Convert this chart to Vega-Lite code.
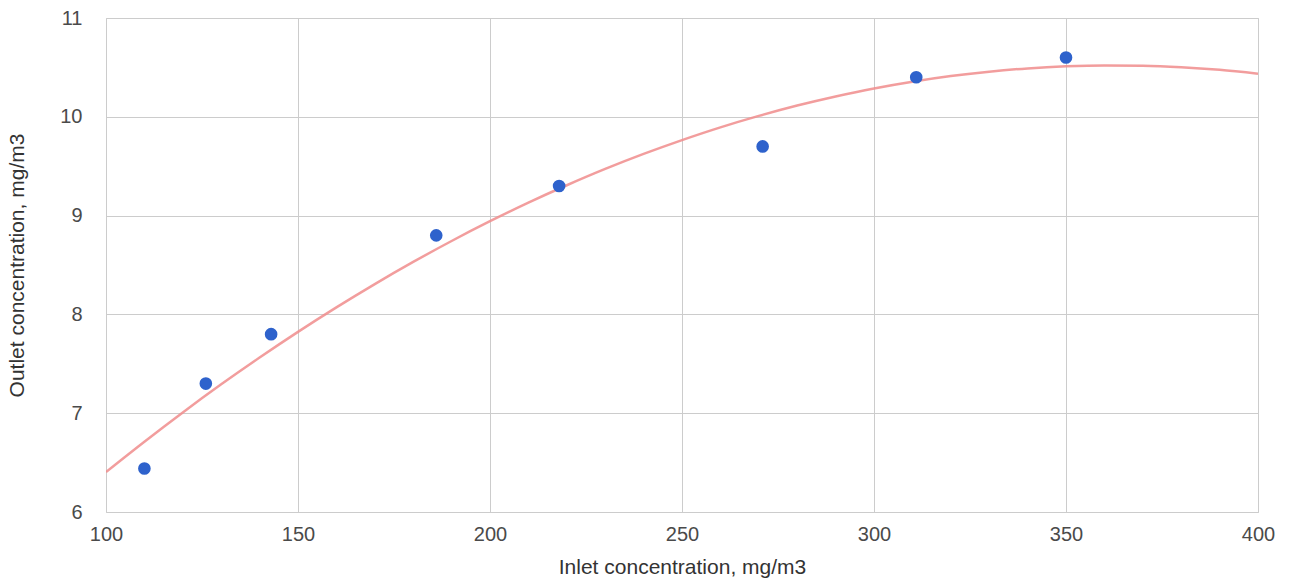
{
  "$schema": "https://vega.github.io/schema/vega-lite/v6.json",
  "width": 1152,
  "height": 494,
  "autosize": {"type": "none"},
  "padding": {"left": 106, "top": 18, "right": 32, "bottom": 69},
  "background": "white",
  "config": {
    "view": {"stroke": "#cccccc"},
    "font": "Liberation Sans",
    "axis": {
      "gridColor": "#cccccc",
      "gridWidth": 1,
      "domain": false,
      "ticks": false,
      "labelFont": "Liberation Sans",
      "labelFontSize": 20,
      "labelColor": "#4a4a4a",
      "titleFont": "Liberation Sans",
      "titleFontSize": 21,
      "titleFontWeight": "normal",
      "titleColor": "#333333"
    }
  },
  "datasets": {
    "points": [
      {"inlet": 110, "outlet": 6.44},
      {"inlet": 126, "outlet": 7.3},
      {"inlet": 143, "outlet": 7.8},
      {"inlet": 186, "outlet": 8.8},
      {"inlet": 218, "outlet": 9.3},
      {"inlet": 271, "outlet": 9.7},
      {"inlet": 311, "outlet": 10.4},
      {"inlet": 350, "outlet": 10.6}
    ],
    "trend": [
      {"inlet": 100, "outlet": 6.405},
      {"inlet": 110, "outlet": 6.712},
      {"inlet": 120, "outlet": 7.008},
      {"inlet": 130, "outlet": 7.292},
      {"inlet": 140, "outlet": 7.563},
      {"inlet": 150, "outlet": 7.823},
      {"inlet": 160, "outlet": 8.071},
      {"inlet": 170, "outlet": 8.307},
      {"inlet": 180, "outlet": 8.531},
      {"inlet": 190, "outlet": 8.743},
      {"inlet": 200, "outlet": 8.943},
      {"inlet": 210, "outlet": 9.131},
      {"inlet": 220, "outlet": 9.307},
      {"inlet": 230, "outlet": 9.472},
      {"inlet": 240, "outlet": 9.624},
      {"inlet": 250, "outlet": 9.764},
      {"inlet": 260, "outlet": 9.893},
      {"inlet": 270, "outlet": 10.009},
      {"inlet": 280, "outlet": 10.114},
      {"inlet": 290, "outlet": 10.206},
      {"inlet": 300, "outlet": 10.287},
      {"inlet": 310, "outlet": 10.355},
      {"inlet": 320, "outlet": 10.412},
      {"inlet": 330, "outlet": 10.457},
      {"inlet": 340, "outlet": 10.49},
      {"inlet": 350, "outlet": 10.511},
      {"inlet": 360, "outlet": 10.52},
      {"inlet": 370, "outlet": 10.517},
      {"inlet": 380, "outlet": 10.502},
      {"inlet": 390, "outlet": 10.475},
      {"inlet": 400, "outlet": 10.436}
    ]
  },
  "layer": [
    {
      "data": {"name": "trend"},
      "mark": {"type": "line", "color": "#f08c8c", "strokeWidth": 2.5, "opacity": 0.85, "interpolate": "monotone", "clip": true},
      "encoding": {
        "x": {
          "field": "inlet", "type": "quantitative",
          "scale": {"domain": [100, 400], "nice": false, "zero": false},
          "axis": {"values": [100, 150, 200, 250, 300, 350, 400], "format": "d", "title": "Inlet concentration, mg/m3", "labelPadding": 12, "titlePadding": 12, "labelFlush": false}
        },
        "y": {
          "field": "outlet", "type": "quantitative",
          "scale": {"domain": [6, 11], "nice": false, "zero": false},
          "axis": {"values": [6, 7, 8, 9, 10, 11], "format": "d", "title": "Outlet concentration, mg/m3", "labelPadding": 24, "titlePadding": 32, "labelFlush": false}
        }
      }
    },
    {
      "data": {"name": "points"},
      "mark": {"type": "point", "filled": true, "color": "#2e62cc", "opacity": 1, "size": 160},
      "encoding": {
        "x": {"field": "inlet", "type": "quantitative"},
        "y": {"field": "outlet", "type": "quantitative"}
      }
    }
  ]
}
